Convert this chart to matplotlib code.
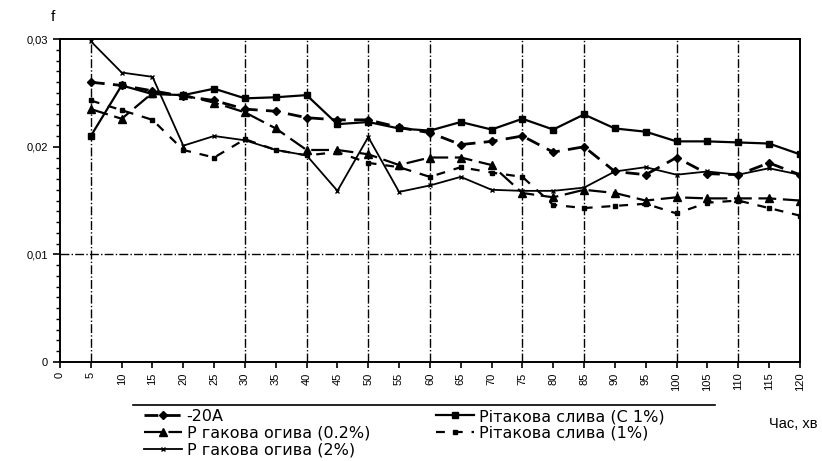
import numpy as np
import matplotlib
matplotlib.use("Agg")
import matplotlib.pyplot as plt
from matplotlib.lines import Line2D
from matplotlib.ticker import MultipleLocator, FuncFormatter

plt.rcParams['font.family'] = ['Liberation Sans', 'DejaVu Sans']

# час, хв
t = [5, 10, 15, 20, 25, 30, 35, 40, 45, 50, 55, 60, 65, 70, 75, 80,
     85, 90, 95, 100, 105, 110, 115, 120]

s_20a = [0.0260, 0.0257, 0.0252, 0.0247, 0.0243, 0.0235, 0.0233, 0.0227,
         0.0225, 0.0225, 0.0218, 0.0213, 0.0202, 0.0205, 0.0210, 0.0195,
         0.0200, 0.0177, 0.0174, 0.0190, 0.0175, 0.0174, 0.0185, 0.0174]
s_c1 = [0.0210, 0.0257, 0.0249, 0.0248, 0.0254, 0.0245, 0.0246, 0.0248,
        0.0221, 0.0223, 0.0217, 0.0215, 0.0223, 0.0216, 0.0226, 0.0216,
        0.0230, 0.0217, 0.0214, 0.0205, 0.0205, 0.0204, 0.0203, 0.0193]
s_02 = [0.0235, 0.0226, 0.0250, 0.0248, 0.0241, 0.0232, 0.0217, 0.0197,
        0.0197, 0.0193, 0.0183, 0.0190, 0.0190, 0.0183, 0.0157, 0.0153,
        0.0160, 0.0157, 0.0150, 0.0153, 0.0152, 0.0152, 0.0152, 0.0150]
s_1 = [0.0243, 0.0234, 0.0225, 0.0197, 0.0190, 0.0207, 0.0197, 0.0192,
       0.0195, 0.0185, 0.0181, 0.0172, 0.0181, 0.0176, 0.0172, 0.0146,
       0.0143, 0.0145, 0.0147, 0.0138, 0.0148, 0.0150, 0.0143, 0.0136]
s_2 = [0.0298, 0.0269, 0.0265, 0.0201, 0.0210, 0.0206, 0.0197, 0.0192,
       0.0159, 0.0209, 0.0158, 0.0164, 0.0172, 0.0160, 0.0159, 0.0159,
       0.0162, 0.0177, 0.0181, 0.0174, 0.0177, 0.0174, 0.0180, 0.0174]

x_ticks = list(range(0, 125, 5))
grid_x = [5, 30, 40, 50, 60, 75, 85, 100, 110]

fig = plt.figure(figsize=(8.22, 4.61), dpi=100)
ax = fig.add_axes([0.073, 0.215, 0.900, 0.700])

ax.plot(t, s_20a, color='black', lw=2, ls=(0, (5, 3)), marker='D', ms=4,
        label='-20А')
ax.plot(t, s_c1, color='black', lw=1.6, ls='-', marker='s', ms=5,
        label='Рітакова слива (С 1%)')
ax.plot(t, s_02, color='black', lw=1.6, ls=(0, (8, 3)), marker='^', ms=6,
        label='Р гакова огива (0.2%)')
ax.plot(t, s_1, color='black', lw=1.6, ls=(0, (4, 4)), marker='s', ms=3.5,
        label='Рітакова слива (1%)')
ax.plot(t, s_2, color='black', lw=1.3, ls='-', marker='x', ms=3,
        label='Р гакова огива (2%)')

for gx in grid_x:
    ax.axvline(gx, color='black', lw=1, ls='-.', zorder=0)
ax.axhline(0.01, color='black', lw=1, ls='-.', zorder=0)

ax.set_xlim(0, 120)
ax.set_ylim(0, 0.03)
ax.set_xticks(x_ticks)
ax.set_xticklabels([str(v) for v in x_ticks], rotation=90, fontsize=8)
ax.set_yticks([0, 0.01, 0.02, 0.03])
ax.yaxis.set_major_formatter(FuncFormatter(
    lambda v, p: '0' if v == 0 else f'{v:.2f}'.replace('.', ',')))
ax.yaxis.set_minor_locator(MultipleLocator(0.001))
ax.tick_params(axis='y', labelsize=8, direction='out', length=5, width=1.2)
ax.tick_params(axis='y', which='minor', direction='out', length=3, width=1)
ax.tick_params(axis='x', direction='out', length=4, width=1.2)
for sp in ax.spines.values():
    sp.set_linewidth(1.4)

fig.text(0.062, 0.955, 'f', fontsize=11)
fig.text(0.935, 0.072, 'Час, хв', fontsize=10.5)

fig.add_artist(Line2D([0.162, 0.870], [0.122, 0.122], color='black', lw=1.2))
handles, labels = ax.get_legend_handles_labels()
order = [0, 2, 4, 1, 3]
fig.legend([handles[i] for i in order], [labels[i] for i in order],
           loc='upper left', bbox_to_anchor=(0.165, 0.130), ncol=2,
           frameon=False, handlelength=2.4, handletextpad=0.3,
           labelspacing=0.12, columnspacing=4.1, borderpad=0.0,
           prop={'family': 'DejaVu Sans', 'size': 11.5})

fig.savefig('out.png', dpi=100)
